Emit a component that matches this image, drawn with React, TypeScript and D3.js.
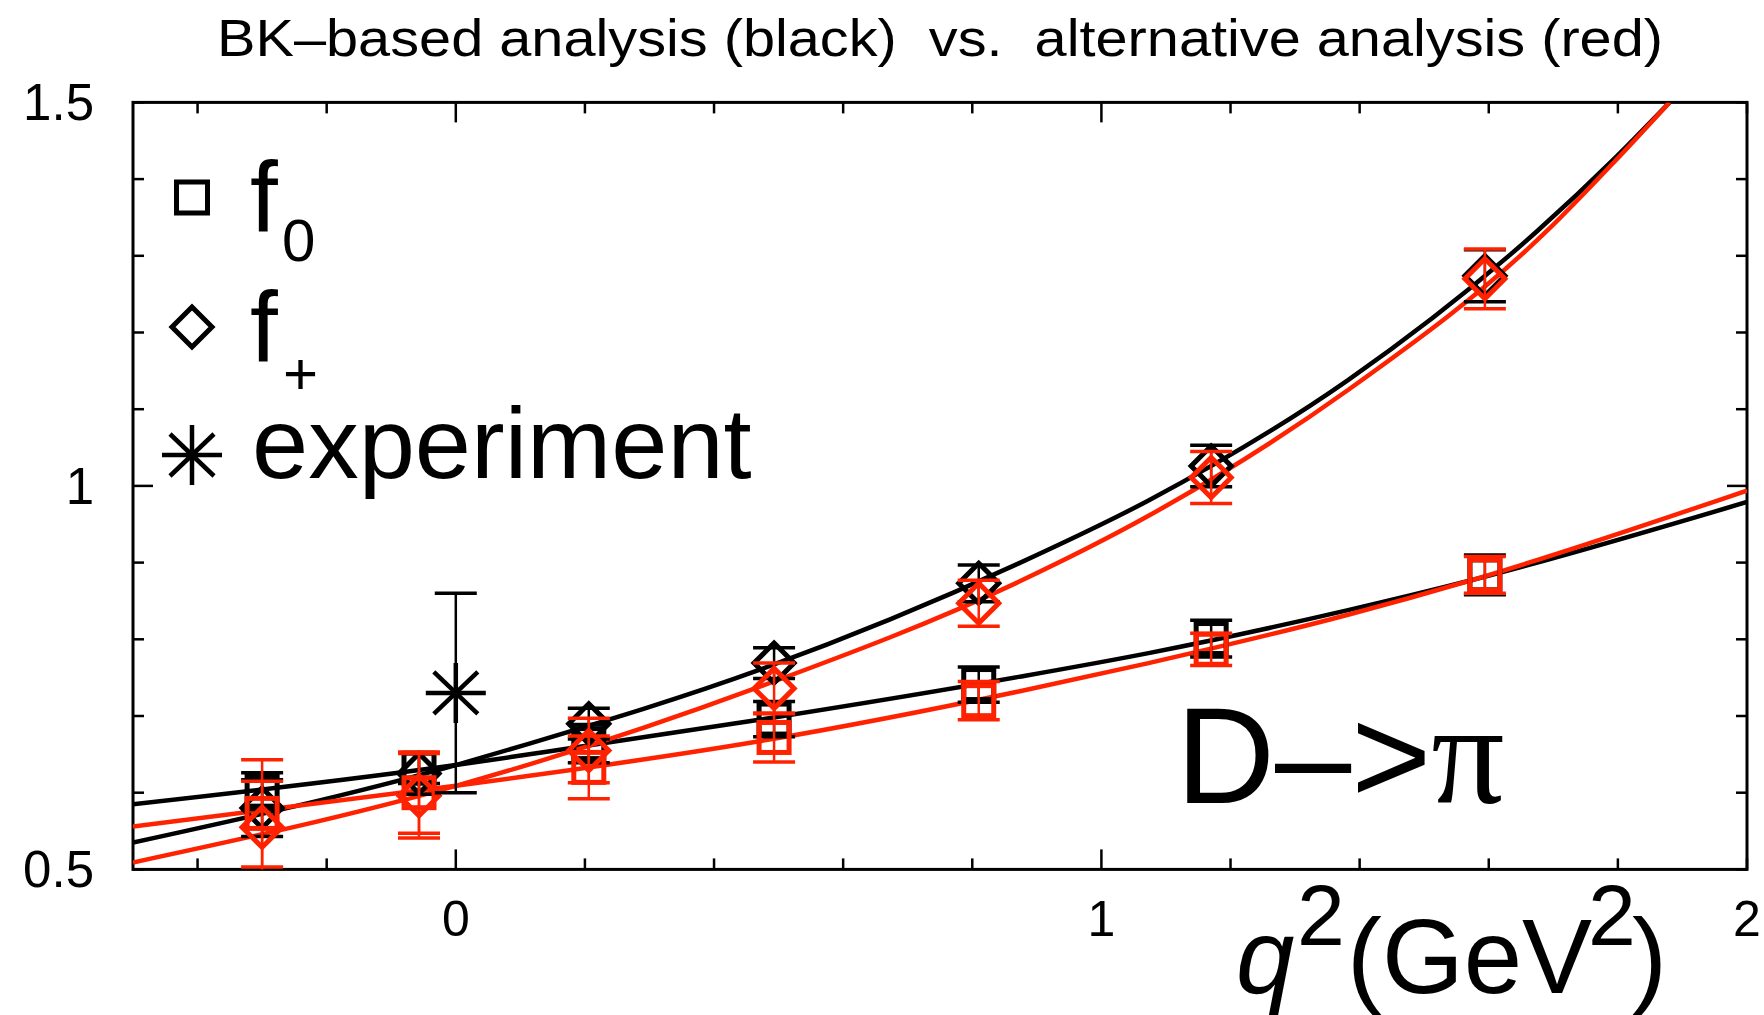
import React from 'react';
import * as d3 from 'd3';

const W = 1764;
const H = 1015;
const RED = '#ff2200';
const FONT = '"Liberation Sans", Arial, Helvetica, sans-serif';

// lattice points (q^2 in GeV^2)
const q2Points = [-0.3, -0.057, 0.206, 0.493, 0.81, 1.17, 1.594];

// BK-based analysis (black)
const bkF0 = [0.602, 0.632, 0.664, 0.696, 0.741, 0.801, 0.884];
const bkF0Err = [0.024, 0.02, 0.025, 0.023, 0.023, 0.024, 0.026];
const bkFp = [0.58, 0.625, 0.69, 0.769, 0.873, 1.026, 1.274];
const bkFpErr = [0.037, 0.027, 0.02, 0.02, 0.024, 0.027, 0.034];

// alternative analysis (red)
const altF0 = [0.573, 0.6, 0.633, 0.672, 0.72, 0.787, 0.884];
const altF0Err = [0.07, 0.053, 0.041, 0.032, 0.025, 0.021, 0.024];
const altFp = [0.555, 0.596, 0.655, 0.736, 0.847, 1.011, 1.27];
const altFpErr = [0.06, 0.055, 0.042, 0.033, 0.03, 0.034, 0.039];

// experiment
const expQ2 = [0];
const expVal = [0.73];
const expErr = [0.13];

// fit curves
const bkFpCurveQ = [-0.5, 0, 0.114, 0.47, 0.872, 1.073, 1.382, 1.676, 1.795, 1.88];
const bkFpCurveV = [0.535, 0.636, 0.664, 0.76, 0.899, 0.981, 1.138, 1.333, 1.427, 1.5];
const altFpCurveQ = [-0.5, 0, 0.114, 0.47, 0.872, 1.073, 1.382, 1.692, 1.795, 1.88];
const altFpCurveV = [0.509, 0.609, 0.637, 0.738, 0.875, 0.961, 1.125, 1.334, 1.423, 1.5];
const bkF0CurveQ = [-0.5, 0, 0.114, 0.47, 0.872, 1.073, 1.382, 1.573, 2.0];
const bkF0CurveV = [0.585, 0.636, 0.65, 0.695, 0.751, 0.782, 0.838, 0.877, 0.979];
const altF0CurveQ = [-0.5, 0, 0.114, 0.47, 0.872, 1.073, 1.382, 1.573, 2.0];
const altF0CurveV = [0.556, 0.609, 0.622, 0.667, 0.732, 0.769, 0.832, 0.877, 0.994];

const xLabelValues = [0, 1, 2];
const xTickLabels = ['0', '1', '2'];
const yLabelValues = [0.5, 1, 1.5];
const yTickLabels = ['0.5', '1', '1.5'];

const x = d3.scaleLinear().domain([-0.5, 2]).range([133, 1747]);
const y = d3.scaleLinear().domain([0.5, 1.5]).range([869.4, 102.4]);

const line = d3
  .line<[number, number]>()
  .x(d => x(d[0]))
  .y(d => y(d[1]))
  .curve(d3.curveMonotoneX);

const zip = (a: number[], b: number[]) => a.map((v, i) => [v, b[i]] as [number, number]);

function Square({ cx, cy, s, color }: any) {
  return <rect x={cx - s / 2} y={cy - s / 2} width={s} height={s} fill="none" stroke={color} strokeWidth={5} />;
}

function Diamond({ cx, cy, r, color }: any) {
  return (
    <path
      d={`M${cx},${cy - r}L${cx + r},${cy}L${cx},${cy + r}L${cx - r},${cy}Z`}
      fill="none"
      stroke={color}
      strokeWidth={5}
    />
  );
}

function Asterisk({ cx, cy }: any) {
  return (
    <g stroke="#000" strokeWidth={4.5}>
      <line x1={cx - 30} y1={cy} x2={cx + 30} y2={cy} />
      <line x1={cx} y1={cy - 30} x2={cx} y2={cy + 30} />
      <line x1={cx - 22} y1={cy - 21} x2={cx + 22} y2={cy + 21} />
      <line x1={cx - 22} y1={cy + 21} x2={cx + 22} y2={cy - 21} />
    </g>
  );
}

function ErrorBars({ qs, vals, errs, color }: any) {
  return (
    <g stroke={color}>
      {qs.map((q: number, i: number) => {
        const px = x(q);
        const lo = y(vals[i] - errs[i]);
        const hi = y(vals[i] + errs[i]);
        return (
          <g key={i}>
            <line x1={px} x2={px} y1={lo} y2={hi} strokeWidth={2.5} />
            <line x1={px - 21} x2={px + 21} y1={lo} y2={lo} strokeWidth={3.5} />
            <line x1={px - 21} x2={px + 21} y1={hi} y2={hi} strokeWidth={3.5} />
          </g>
        );
      })}
    </g>
  );
}

export default function App() {
  const [x0, x1] = x.range();
  const [y0, y1] = y.range();
  const xTicks = x.ticks(12);
  const yTicks = y.ticks(10);

  return (
    <svg width={W} height={H} style={{ position: 'absolute', left: 0, top: 0, background: '#fff' }} fontFamily={FONT}>
      <defs>
        <clipPath id="plot">
          <rect x={x0} y={y1} width={x1 - x0} height={y0 - y1} />
        </clipPath>
      </defs>

      <text x={940} y={56} fontSize={52} textAnchor="middle" textLength={1446} lengthAdjust="spacingAndGlyphs" style={{ whiteSpace: 'pre' }}>
        {'BK\u2013based analysis (black)  vs.  alternative analysis (red)'}
      </text>

      {/* frame and ticks */}
      <g stroke="#000" strokeWidth={2.5}>
        {xTicks.map(t => {
          const len = t === 0 || t === 1 ? 20 : 11;
          return (
            <g key={'x' + t}>
              <line x1={x(t)} x2={x(t)} y1={y0} y2={y0 - len} />
              <line x1={x(t)} x2={x(t)} y1={y1} y2={y1 + len} />
            </g>
          );
        })}
        {yTicks.map(t => {
          const len = Math.abs(t - 1) < 1e-9 ? 20 : 11;
          return (
            <g key={'y' + t}>
              <line x1={x0} x2={x0 + len} y1={y(t)} y2={y(t)} />
              <line x1={x1} x2={x1 - len} y1={y(t)} y2={y(t)} />
            </g>
          );
        })}
      </g>
      <rect x={x0} y={y1} width={x1 - x0} height={y0 - y1} fill="none" stroke="#000" strokeWidth={3} />

      {xLabelValues.map((v, i) => (
        <text key={'xl' + i} x={x(v)} y={936} fontSize={50} textAnchor="middle">
          {xTickLabels[i]}
        </text>
      ))}
      {yLabelValues.map((v, i) => (
        <text key={'yl' + i} x={94} y={y(v) + 18} fontSize={51} textAnchor="end">
          {yTickLabels[i]}
        </text>
      ))}

      {/* fit curves */}
      <g clipPath="url(#plot)" fill="none" strokeWidth={4.5}>
        <path d={line(zip(bkF0CurveQ, bkF0CurveV)) || ''} stroke="#000" />
        <path d={line(zip(bkFpCurveQ, bkFpCurveV)) || ''} stroke="#000" />
        <path d={line(zip(altF0CurveQ, altF0CurveV)) || ''} stroke={RED} />
        <path d={line(zip(altFpCurveQ, altFpCurveV)) || ''} stroke={RED} />
      </g>

      {/* data points */}
      <g clipPath="url(#plot)">
        <ErrorBars qs={q2Points} vals={bkF0} errs={bkF0Err} color="#000" />
        <ErrorBars qs={q2Points} vals={bkFp} errs={bkFpErr} color="#000" />
        {q2Points.map((q, i) => (
          <Square key={'bs' + i} cx={x(q)} cy={y(bkF0[i])} s={30} color="#000" />
        ))}
        {q2Points.map((q, i) => (
          <Diamond key={'bd' + i} cx={x(q)} cy={y(bkFp[i])} r={20} color="#000" />
        ))}
        <ErrorBars qs={q2Points} vals={altF0} errs={altF0Err} color={RED} />
        <ErrorBars qs={q2Points} vals={altFp} errs={altFpErr} color={RED} />
        {q2Points.map((q, i) => (
          <Square key={'rs' + i} cx={x(q)} cy={y(altF0[i])} s={30} color={RED} />
        ))}
        {q2Points.map((q, i) => (
          <Diamond key={'rd' + i} cx={x(q)} cy={y(altFp[i])} r={20} color={RED} />
        ))}
        <ErrorBars qs={expQ2} vals={expVal} errs={expErr} color="#000" />
        {expQ2.map((q, i) => (
          <Asterisk key={'ex' + i} cx={x(q)} cy={y(expVal[i])} />
        ))}
      </g>

      {/* legend */}
      <Square cx={192} cy={197.5} s={31} color="#000" />
      <Diamond cx={192} cy={327} r={20} color="#000" />
      <Asterisk cx={192} cy={455} />
      <text x={250} y={232} fontSize={100}>f</text>
      <text x={282} y={261} fontSize={60}>0</text>
      <text x={250} y={362} fontSize={100}>f</text>
      <text x={283} y={394} fontSize={60}>+</text>
      <text x={252} y={478} fontSize={101}>experiment</text>

      {/* process label */}
      <text x={1176} y={803} fontSize={137}>
        {'D\u2013>'}
        <tspan fontFamily='"Liberation Serif", "Times New Roman", serif' fontSize={145}>{'\u03c0'}</tspan>
      </text>

      {/* axis title */}
      <text y={993} fontSize={105}>
        <tspan x={1236} fontStyle="italic">q</tspan>
        <tspan x={1297} y={945} fontSize={86}>2</tspan>
        <tspan x={1347} y={993}>(GeV</tspan>
        <tspan x={1588} y={945} fontSize={86}>2</tspan>
        <tspan x={1632} y={993}>)</tspan>
      </text>
    </svg>
  );
}
